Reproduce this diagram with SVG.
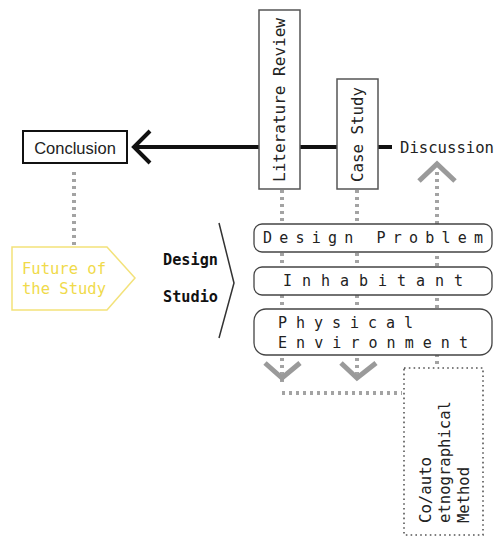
<svg xmlns="http://www.w3.org/2000/svg" width="496" height="538" viewBox="0 0 496 538">
  <style>
    .mono { font-family: "DejaVu Sans Mono", "Liberation Mono", monospace; }
    .sans { font-family: "Liberation Sans", Arial, sans-serif; }
    .box { fill: #ffffff; stroke: #555555; stroke-width: 1.5; }
    .pill { fill: #ffffff; stroke: #444444; stroke-width: 1.3; }
    .dots { fill: none; stroke: #a3a3a3; stroke-width: 4; stroke-dasharray: 3 4; }
    .chev { fill: none; stroke: #9a9a9a; stroke-width: 5; stroke-linejoin: miter; }
    .main { fill: none; stroke: #111111; stroke-width: 4; }
    .lbl { font-size: 15px; fill: #222222; }
    .spaced { font-size: 15px; fill: #222222; }
  </style>

  <rect width="496" height="538" fill="#ffffff"/>

  <!-- connectors -->
  <g id="connectors">
    <!-- dotted links -->
    <path class="dots" d="M74 172 V246"/>
    <path class="dots" d="M282 190 V386 M282 393 H402"/>
    <path class="dots" d="M357 190 V375"/>
    <path class="dots" d="M437 172 V366"/>
    <!-- main timeline toward Conclusion -->
    <path class="main" d="M136 147 H259 M300 147 H337 M378 147 H392"/>
    <path class="main" d="M150 131 L134 147 L150 163"/>
    <!-- gray chevrons -->
    <path class="chev" d="M419 181 L437 164 L455 181"/>
    <path class="chev" d="M265 363 L282 378 L300 363"/>
    <path class="chev" d="M341 363 L357 378 L376 363"/>
    <!-- bracket for Design Studio -->
    <path d="M219 223 L234 283 L219 338" fill="none" stroke="#333333" stroke-width="1.5"/>
  </g>

  <g id="conclusion">
    <rect x="23" y="131" width="104" height="32" fill="#ffffff" stroke="#111111" stroke-width="2"/>
    <text class="sans" x="75" y="154" font-size="16.5" fill="#222222" text-anchor="middle">Conclusion</text>
  </g>

  <g id="literature-review">
    <rect class="box" x="259" y="10" width="41" height="179"/>
    <text class="mono lbl" transform="translate(285 182) rotate(-90)" textLength="164" lengthAdjust="spacingAndGlyphs">Literature Review</text>
  </g>

  <g id="case-study">
    <rect class="box" x="337" y="79" width="41" height="110"/>
    <text class="mono lbl" transform="translate(363 182) rotate(-90)" textLength="95" lengthAdjust="spacingAndGlyphs">Case Study</text>
  </g>

  <g id="discussion">
    <text class="mono" x="400" y="153" font-size="15" fill="#222222" textLength="94" lengthAdjust="spacingAndGlyphs">Discussion</text>
  </g>

  <g id="future-of-the-study">
    <path d="M12 247 H107 L135 278 L107 310 H12 Z" fill="#ffffff" stroke="#f3e27a" stroke-width="1.5"/>
    <text class="mono" x="22" y="274" font-size="15" fill="#f0da4a" textLength="84" lengthAdjust="spacingAndGlyphs">Future of</text>
    <text class="mono" x="22" y="294" font-size="15" fill="#f0da4a" textLength="84" lengthAdjust="spacingAndGlyphs">the Study</text>
  </g>

  <g id="design-studio">
    <text class="mono" x="163" y="265" font-size="15" font-weight="bold" fill="#111111" textLength="55" lengthAdjust="spacingAndGlyphs">Design</text>
    <text class="mono" x="163" y="302" font-size="15" font-weight="bold" fill="#111111" textLength="55" lengthAdjust="spacingAndGlyphs">Studio</text>
  </g>

  <g id="design-problem">
    <rect class="pill" x="254" y="224" width="238" height="28" rx="8"/>
    <text class="mono spaced" x="263" y="243" textLength="220" lengthAdjust="spacing">Design Problem</text>
  </g>

  <g id="inhabitant">
    <rect class="pill" x="254" y="267" width="238" height="28" rx="8"/>
    <text class="mono spaced" x="283" y="286" textLength="180" lengthAdjust="spacing">Inhabitant</text>
  </g>

  <g id="physical-environment">
    <rect class="pill" x="254" y="309" width="238" height="46" rx="12"/>
    <text class="mono spaced" x="278" y="328" textLength="135" lengthAdjust="spacing">Physical</text>
    <text class="mono spaced" x="278" y="348" textLength="190" lengthAdjust="spacing">Environment</text>
  </g>

  <g id="method">
    <rect x="404" y="368" width="79" height="167" fill="none" stroke="#555555" stroke-width="1.6" stroke-dasharray="1.6 3.2"/>
    <text class="mono" transform="translate(431 523) rotate(-90)" font-size="15" fill="#222222" textLength="66" lengthAdjust="spacingAndGlyphs">Co/auto</text>
    <text class="mono" transform="translate(450 523) rotate(-90)" font-size="15" fill="#222222" textLength="122" lengthAdjust="spacingAndGlyphs">etnographical</text>
    <text class="mono" transform="translate(469 523) rotate(-90)" font-size="15" fill="#222222" textLength="56" lengthAdjust="spacingAndGlyphs">Method</text>
  </g>
</svg>
